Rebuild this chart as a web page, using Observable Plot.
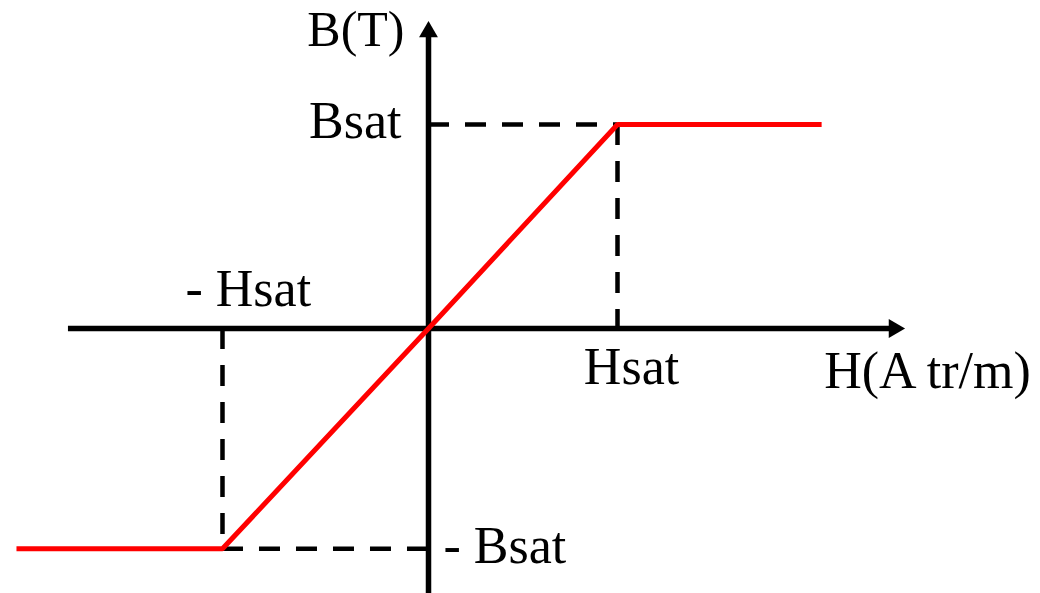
<!DOCTYPE html>
<html>
<head>
<meta charset="utf-8">
<script src="https://cdn.jsdelivr.net/npm/d3@7"></script>
<script src="https://cdn.jsdelivr.net/npm/@observablehq/plot@0.6"></script>
<style>
  html, body { margin: 0; padding: 0; background: #fff; }
  #chart svg { display: block; }
</style>
</head>
<body>
<div id="chart"></div>
<script>
// Idealized B–H saturation characteristic, in normalized units (Hsat = 1, Bsat = 1)
const hPoints = [-2.18, -1.09, 0, 1, 2.08];
const bPoints = [-1.08, -1.08, 0, 1, 1];

// Saturation levels marked by the dashed guides
const hSat = 1;
const hSatNeg = -1.09;
const bSat = 1;
const bSatNeg = -1.08;

// Extent of the drawn H and B axes (arrowheads sit at the far end)
const hAxisExtent = [-1.905, 2.464];
const bAxisExtent = [-1.31, 1.454];

// Text
const hTitle = "H(A tr/m)";
const bTitle = "B(T)";
const hSatLabels = ["Hsat", "- Hsat"];
const bSatLabels = ["Bsat", "- Bsat"];

const curve = hPoints.map((h, i) => ({h, b: bPoints[i]}));

const font = {fontFamily: "Liberation Serif", fontSize: 52, fill: "black", lineAnchor: "bottom"};
const dash = {stroke: "black", strokeWidth: 4.5, strokeDasharray: "21,16"};
const axisLine = {stroke: "black", strokeWidth: 5.5};

const chart = Plot.plot({
  width: 1040,
  height: 593,
  margin: 0,
  x: {domain: [-428 / 189, 612 / 189], axis: null},
  y: {domain: [-265 / 204, 328 / 204], axis: null},
  style: {background: "white"},
  marks: [
    // dashed saturation guides
    Plot.ruleY([bSat], {x1: 0, x2: hSat, ...dash}),
    Plot.ruleX([hSat], {y1: bSat, y2: 0, ...dash}),
    Plot.ruleX([hSatNeg], {y1: 0, y2: bSatNeg, ...dash}),
    Plot.ruleY([bSatNeg], {x1: hSatNeg, x2: 0, ...dash}),

    // axes with filled arrowheads
    Plot.ruleY([0], {x1: hAxisExtent[0], x2: hAxisExtent[1], ...axisLine}),
    Plot.ruleX([0], {y1: bAxisExtent[0], y2: bAxisExtent[1], ...axisLine}),
    Plot.dot([{h: hAxisExtent[1], b: 0}], {x: "h", y: "b", symbol: "triangle", r: 7, fill: "black", rotate: 90}),
    Plot.dot([{h: 0, b: bAxisExtent[1]}], {x: "h", y: "b", symbol: "triangle", r: 7, fill: "black"}),

    // B(H) curve
    Plot.line(curve, {x: "h", y: "b", stroke: "#ff0000", strokeWidth: 5, strokeLinejoin: "miter", strokeLinecap: "butt"}),

    // axis titles
    Plot.text([bTitle], {x: 0, y: bAxisExtent[1], text: d => d, textAnchor: "end", dx: -24, dy: 14, ...font, fontSize: 50}),
    Plot.text([hTitle], {x: hAxisExtent[1], y: 0, text: d => d, textAnchor: "start", dx: -70, dy: 59, ...font}),

    // saturation labels
    Plot.text([bSatLabels[0]], {x: 0, y: bSat, text: d => d, textAnchor: "end", dx: -27, dy: 13, ...font}),
    Plot.text([bSatLabels[1]], {x: 0, y: bSatNeg, text: d => d, textAnchor: "start", dx: 15, dy: 14, ...font}),
    Plot.text([hSatLabels[0]], {x: hSat, y: 0, text: d => d, textAnchor: "middle", dx: 14, dy: 55, ...font}),
    Plot.text([hSatLabels[1]], {x: hSatNeg, y: 0, text: d => d, textAnchor: "start", dx: -37, dy: -23, ...font})
  ]
});

document.getElementById("chart").appendChild(chart);
</script>
</body>
</html>
